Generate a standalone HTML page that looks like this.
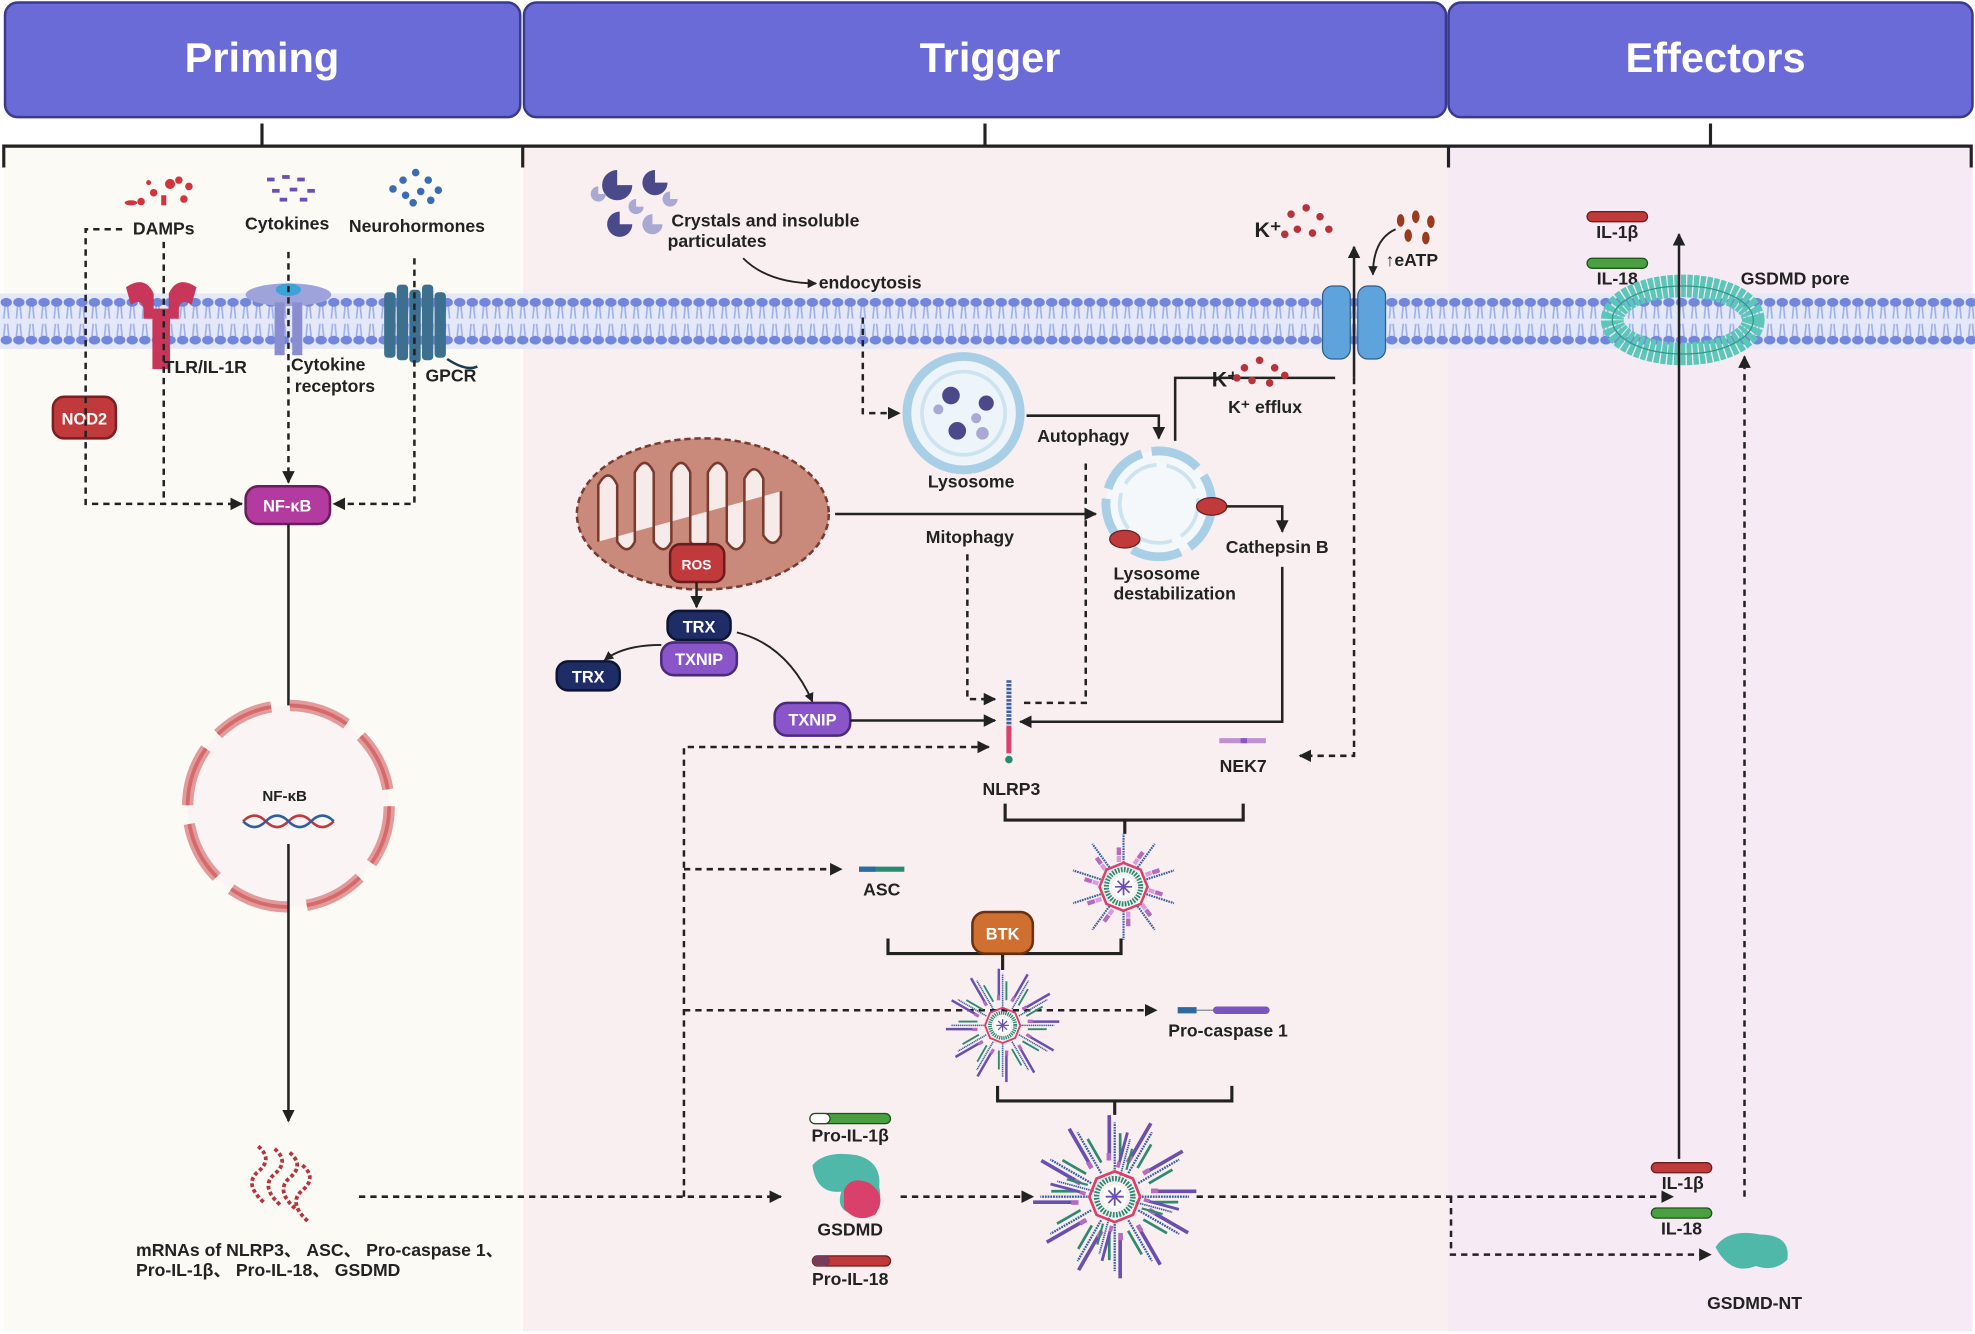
<!DOCTYPE html>
<html><head><meta charset="utf-8"><style>
html,body{margin:0;padding:0;background:#fff}
svg{display:block}
text{font-family:"Liberation Sans","Noto Sans CJK SC",sans-serif;font-weight:bold;fill:#222;font-size:14px}
.h{fill:#fff;font-size:33px}
.w{fill:#fff;font-size:13px}
</style></head><body>
<svg width="1975" height="1334" viewBox="0 0 1568 1059" preserveAspectRatio="none" xmlns="http://www.w3.org/2000/svg">
<defs>
<marker id="a" viewBox="0 0 10 10" refX="9" refY="5" markerWidth="5" markerHeight="5" orient="auto"><path d="M0,0L10,5L0,10z" fill="#222"/></marker>
<pattern id="mem" width="10" height="44" patternUnits="userSpaceOnUse" x="0" y="233">
<rect width="10" height="44" fill="#e4e8f8"/>
<line x1="4" y1="10" x2="3" y2="20" stroke="#9fb0e8" stroke-width="1.3"/><line x1="6" y1="10" x2="7" y2="20" stroke="#9fb0e8" stroke-width="1.3"/>
<line x1="4" y1="24" x2="3" y2="34" stroke="#9fb0e8" stroke-width="1.3"/><line x1="6" y1="24" x2="7" y2="34" stroke="#9fb0e8" stroke-width="1.3"/>
<ellipse cx="5" cy="7" rx="4.5" ry="3.5" fill="#7186dc"/><ellipse cx="5" cy="37" rx="4.5" ry="3.5" fill="#7186dc"/>
</pattern>
<g id="sp"><line x1="0" y1="-28" x2="0" y2="-62" stroke="#3b5fa0" stroke-width="2.5" stroke-dasharray="2 1"/><rect x="-8" y="-46" width="5" height="9" fill="#b46bc0"/><rect x="-8" y="-36" width="5" height="7" fill="#d69be0"/></g>
<g id="sp2"><line x1="0" y1="-30" x2="0" y2="-82" stroke="#3b5fa0" stroke-width="2.5" stroke-dasharray="2 1"/><line x1="-6" y1="-40" x2="-6" y2="-90" stroke="#6a4fb0" stroke-width="4"/><rect x="-9" y="-48" width="5" height="8" fill="#b46bc0"/><line x1="6" y1="-40" x2="6" y2="-70" stroke="#2f8a6e" stroke-width="3"/></g>
<g id="core"><polygon points="0,-28 20,-20 28,0 20,20 0,28 -20,20 -28,0 -20,-20" fill="none" stroke="#d9406a" stroke-width="3"/><circle r="20" fill="none" stroke="#2a8a70" stroke-width="6" stroke-dasharray="2 1.5"/><circle r="13" fill="#fff"/><g stroke="#6a4fb0" stroke-width="2"><line x1="-10" y1="0" x2="10" y2="0"/><line x1="0" y1="-10" x2="0" y2="10"/><line x1="-7" y1="-7" x2="7" y2="7"/><line x1="-7" y1="7" x2="7" y2="-7"/></g></g>
</defs>
<rect width="1568" height="1059" fill="#fff"/>
<rect x="3" y="115" width="411" height="942" fill="#fcfaf5"/>
<rect x="415" y="115" width="735" height="942" fill="#f9eff1"/>
<rect x="1150" y="115" width="416" height="942" fill="#f6eaf4"/>
<rect x="4" y="2" width="409" height="91" rx="10" fill="#6b6bd8" stroke="#3a3a8a" stroke-width="2"/>
<rect x="416" y="2" width="732" height="91" rx="10" fill="#6b6bd8" stroke="#3a3a8a" stroke-width="2"/>
<rect x="1150" y="2" width="416" height="91" rx="10" fill="#6b6bd8" stroke="#3a3a8a" stroke-width="2"/>
<text class="h" x="208" y="57" text-anchor="middle">Priming</text>
<text class="h" x="786" y="57" text-anchor="middle">Trigger</text>
<text class="h" x="1362" y="57" text-anchor="middle">Effectors</text>
<g stroke="#222" stroke-width="2.5" fill="none"><path d="M3,133V116H1565V133M415,116V133M1150,116V133M208,98V116M782,98V116M1358,98V116"/></g>
<rect x="0" y="233" width="1568" height="44" fill="url(#mem)"/>
<g fill="#d0353b"><circle cx="112" cy="160" r="3"/><circle cx="122" cy="153" r="3"/><circle cx="135" cy="146" r="4"/><circle cx="146" cy="158" r="3"/><rect x="128" y="155" width="4" height="8"/><circle cx="142" cy="143" r="3"/><ellipse cx="104" cy="161" rx="5" ry="2"/><circle cx="118" cy="145" r="2"/><circle cx="150" cy="148" r="3"/></g>
<text x="130" y="186" text-anchor="middle">DAMPs</text>
<g fill="#6b4fb5"><rect x="212" y="141" width="6" height="3"/><rect x="224" y="139" width="6" height="3"/><rect x="236" y="141" width="6" height="3"/><rect x="216" y="150" width="6" height="3"/><rect x="230" y="149" width="6" height="3"/><rect x="244" y="150" width="6" height="3"/><rect x="222" y="157" width="6" height="3"/><rect x="238" y="157" width="6" height="3"/></g>
<text x="228" y="182" text-anchor="middle">Cytokines</text>
<g fill="#3a6bb5"><circle cx="312" cy="150" r="3"/><circle cx="320" cy="143" r="3"/><circle cx="330" cy="137" r="3"/><circle cx="340" cy="143" r="3"/><circle cx="348" cy="151" r="3"/><circle cx="322" cy="155" r="3"/><circle cx="334" cy="152" r="3"/><circle cx="342" cy="159" r="3"/><circle cx="328" cy="161" r="3"/></g>
<text x="331" y="184" text-anchor="middle">Neurohormones</text>
<g fill="#c8365a"><path d="M100,228q15,-10 22,5v12h12v-12q7,-15 22,-5l-4,14q-8,-6 -10,3v8h-7v40h-14v-40h-7v-8q-2,-9 -10,-3z"/></g>
<text x="163" y="296" text-anchor="middle">TLR/IL-1R</text>
<g><ellipse cx="229" cy="234" rx="34" ry="9" fill="#9fa3dc"/><ellipse cx="229" cy="230" rx="10" ry="5" fill="#3aa3d8"/><rect x="218" y="240" width="8" height="42" fill="#8a8ed0"/><rect x="232" y="240" width="8" height="42" fill="#8a8ed0"/></g>
<text x="231" y="294">Cytokine</text><text x="234" y="311">receptors</text>
<g fill="#3d6f8f"><rect x="305" y="232" width="9" height="52" rx="3"/><rect x="315" y="226" width="9" height="60" rx="3"/><rect x="325" y="230" width="9" height="58" rx="3"/><rect x="335" y="226" width="9" height="60" rx="3"/><rect x="345" y="232" width="9" height="52" rx="3"/></g>
<path d="M355,285q15,10 24,6" stroke="#1b3b4f" stroke-width="2" fill="none"/>
<text x="358" y="303" text-anchor="middle">GPCR</text>
<rect x="42" y="315" width="50" height="33" rx="9" fill="#c0393b" stroke="#7a1f22" stroke-width="2"/><text class="w" x="67" y="337" text-anchor="middle">NOD2</text>
<g stroke="#222" stroke-width="2" fill="none" stroke-dasharray="5 4">
<path d="M97,182H68V400H192" marker-end="url(#a)"/><path d="M130,192V400"/><path d="M229,200V383" marker-end="url(#a)"/><path d="M329,205V400H265" marker-end="url(#a)"/></g>
<rect x="195" y="386" width="67" height="30" rx="10" fill="#b33a9e" stroke="#6a1d5c" stroke-width="2"/><text class="w" x="228" y="406" text-anchor="middle">NF-κB</text>
<path d="M229,416V620" stroke="#222" stroke-width="2" marker-end="url(#a)"/>
<circle cx="229" cy="640" r="80" fill="#fbf4f4"/>
<circle cx="229" cy="640" r="80" fill="none" stroke="#e39a9a" stroke-width="9" stroke-dasharray="48 15"/>
<circle cx="229" cy="640" r="80" fill="none" stroke="#d46a6a" stroke-width="3" stroke-dasharray="48 15"/>
<text x="226" y="636" text-anchor="middle" style="font-size:12px">NF-κB</text>
<path d="M193,652q9,-9 18,0t18,0t18,0t18,0" stroke="#c0393b" stroke-width="2" fill="none"/><path d="M193,652q9,9 18,0t18,0t18,0t18,0" stroke="#2d5fa0" stroke-width="2" fill="none"/>
<path d="M229,670V890" stroke="#222" stroke-width="2" marker-end="url(#a)"/>
<g stroke="#b7333b" stroke-width="3" fill="none" stroke-dasharray="3 2"><path d="M205,910q12,10 0,20t5,25"/><path d="M218,912q12,10 0,20t5,25"/><path d="M230,915q12,10 0,20t5,25"/><path d="M240,925q12,10 0,20t5,25"/></g>
<text x="108" y="997">mRNAs of NLRP3、 ASC、 Pro-caspase 1、</text>
<text x="108" y="1013">Pro-IL-1β、 Pro-IL-18、 GSDMD</text>
<g stroke="#222" stroke-width="2" fill="none" stroke-dasharray="5 4">
<path d="M285,950H620" marker-end="url(#a)"/><path d="M543,950V593H785" marker-end="url(#a)"/><path d="M543,690H668" marker-end="url(#a)"/><path d="M543,802H918" marker-end="url(#a)"/>
<path d="M715,950H820" marker-end="url(#a)"/><path d="M950,950H1328" marker-end="url(#a)"/><path d="M1152,950V996H1358" marker-end="url(#a)"/>
<path d="M685,252V328H714" marker-end="url(#a)"/><path d="M768,440V555H790" marker-end="url(#a)"/><path d="M862,368V558H810"/>
<path d="M1075,300V600H1032" marker-end="url(#a)"/><path d="M1385,950V283" marker-end="url(#a)"/>
</g>
<g fill="#4a4a8a"><path d="M490,135a12,12 0 1,0 12,12h-12z"/><path d="M520,135a10,10 0 1,0 10,10h-10z"/><path d="M492,168a10,10 0 1,0 10,10h-10z"/></g>
<g fill="#a9a9d4"><path d="M475,148a6,6 0 1,0 6,6h-6z"/><path d="M505,158a6,6 0 1,0 6,6h-6z"/><path d="M532,152a6,6 0 1,0 6,6h-6z"/><path d="M518,170a8,8 0 1,0 8,8h-8z"/></g>
<text x="533" y="180">Crystals and  insoluble</text><text x="530" y="196">particulates</text>
<path d="M590,205q20,20 58,20" stroke="#222" stroke-width="1.5" fill="none" marker-end="url(#a)"/>
<text x="650" y="229">endocytosis</text>
<circle cx="765" cy="328" r="45" fill="#eef5fa" stroke="#a9cfe6" stroke-width="7"/><circle cx="765" cy="328" r="33" fill="#eef5fa" stroke="#cde3f0" stroke-width="3"/>
<g fill="#4a4a8a"><circle cx="755" cy="314" r="7"/><circle cx="783" cy="320" r="6"/><circle cx="760" cy="342" r="7"/></g><g fill="#a9a9d4"><circle cx="745" cy="325" r="4"/><circle cx="775" cy="332" r="4"/><circle cx="780" cy="344" r="5"/></g>
<text x="771" y="387" text-anchor="middle">Lysosome</text>
<path d="M815,330H920V348" stroke="#222" stroke-width="2" fill="none" marker-end="url(#a)"/>
<text x="860" y="351" text-anchor="middle">Autophagy</text>
<circle cx="920" cy="400" r="42" fill="#f4f8fb" stroke="#a9cfe6" stroke-width="7" stroke-dasharray="40 8"/><circle cx="920" cy="400" r="31" fill="none" stroke="#cde3f0" stroke-width="3" stroke-dasharray="30 8"/>
<ellipse cx="893" cy="428" rx="12" ry="7" fill="#c0393b" stroke="#6a1d1d"/><ellipse cx="962" cy="402" rx="12" ry="7" fill="#c0393b" stroke="#6a1d1d"/>
<path d="M974,402H1018V422" stroke="#222" stroke-width="2" fill="none" marker-end="url(#a)"/>
<text x="1014" y="439" text-anchor="middle">Cathepsin B</text>
<text x="884" y="460">Lysosome</text><text x="884" y="476">destabilization</text>
<path d="M1018,450V573H810" stroke="#222" stroke-width="2" fill="none" marker-end="url(#a)"/>
<ellipse cx="558" cy="408" rx="100" ry="60" fill="#c98a7c" stroke="#7a3a2e" stroke-width="2" stroke-dasharray="5 3"/>
<path d="M475,430v-45q8,-15 15,0v45q8,12 14,0v-55q8,-15 15,0v55q8,12 14,0v-55q8,-15 15,0v55q8,12 14,0v-55q8,-15 15,0v55q8,12 14,0v-50q8,-15 15,0v45q8,12 14,0v-35" fill="#f6ebe9" stroke="#7a3a2e" stroke-width="2"/>
<path d="M663,408H870" stroke="#222" stroke-width="2" marker-end="url(#a)"/>
<text x="770" y="431" text-anchor="middle">Mitophagy</text>
<rect x="532" y="432" width="43" height="30" rx="8" fill="#c0393b" stroke="#6a1d1d" stroke-width="2"/><text class="w" x="553" y="452" text-anchor="middle" style="font-size:11px">ROS</text>
<path d="M553,462V482" stroke="#222" stroke-width="2" marker-end="url(#a)"/>
<rect x="530" y="485" width="50" height="23" rx="9" fill="#1f2d66" stroke="#0d1533" stroke-width="2"/><text class="w" x="555" y="502" text-anchor="middle">TRX</text>
<rect x="525" y="510" width="60" height="26" rx="10" fill="#8a55c8" stroke="#4a2a7a" stroke-width="2"/><text class="w" x="555" y="528" text-anchor="middle">TXNIP</text>
<path d="M525,512q-30,0 -45,12" stroke="#222" stroke-width="1.5" fill="none" marker-end="url(#a)"/>
<rect x="442" y="525" width="50" height="23" rx="9" fill="#1f2d66" stroke="#0d1533" stroke-width="2"/><text class="w" x="467" y="542" text-anchor="middle">TRX</text>
<path d="M585,502q40,10 60,55" stroke="#222" stroke-width="1.5" fill="none" marker-end="url(#a)"/>
<rect x="615" y="558" width="60" height="26" rx="10" fill="#8a55c8" stroke="#4a2a7a" stroke-width="2"/><text class="w" x="645" y="576" text-anchor="middle">TXNIP</text>
<path d="M675,572H790" stroke="#222" stroke-width="2" marker-end="url(#a)"/>
<line x1="801" y1="540" x2="801" y2="575" stroke="#3b5fa0" stroke-width="4" stroke-dasharray="2 1"/><line x1="801" y1="576" x2="801" y2="598" stroke="#d9406a" stroke-width="4"/><circle cx="801" cy="603" r="3" fill="#2a8a70"/>
<text x="803" y="631" text-anchor="middle">NLRP3</text>
<rect x="1050" y="227" width="22" height="58" rx="8" fill="#5fa3dd" stroke="#2d5f8a"/><rect x="1078" y="227" width="22" height="58" rx="8" fill="#5fa3dd" stroke="#2d5f8a"/>
<path d="M1075,300V196" stroke="#222" stroke-width="2" marker-end="url(#a)"/>
<path d="M1060,300H933V350" stroke="#222" stroke-width="2" fill="none"/>
<text x="996" y="188" style="font-size:17px">K⁺</text>
<g fill="#b7333b"><circle cx="1025" cy="170" r="3"/><circle cx="1037" cy="165" r="3"/><circle cx="1048" cy="172" r="3"/><circle cx="1030" cy="182" r="3"/><circle cx="1042" cy="185" r="3"/><circle cx="1055" cy="182" r="3"/><circle cx="1020" cy="186" r="3"/></g>
<g fill="#9a3a1e"><ellipse cx="1112" cy="175" rx="3" ry="5"/><ellipse cx="1124" cy="172" rx="3" ry="5"/><ellipse cx="1136" cy="176" rx="3" ry="5"/><ellipse cx="1118" cy="187" rx="3" ry="5"/><ellipse cx="1132" cy="189" rx="3" ry="5"/></g>
<path d="M1108,182q-18,8 -18,36" stroke="#222" stroke-width="1.5" fill="none" marker-end="url(#a)"/>
<text x="1100" y="211">↑eATP</text>
<text x="962" y="307" style="font-size:17px">K⁺</text>
<g fill="#b7333b"><circle cx="988" cy="292" r="3"/><circle cx="1000" cy="286" r="3"/><circle cx="1012" cy="292" r="3"/><circle cx="994" cy="302" r="3"/><circle cx="1008" cy="304" r="3"/><circle cx="1020" cy="298" r="3"/><circle cx="982" cy="300" r="3"/></g>
<text x="975" y="328">K⁺ efflux</text>
<line x1="968" y1="588" x2="1005" y2="588" stroke="#c090d0" stroke-width="4"/><line x1="985" y1="588" x2="990" y2="588" stroke="#8a55c8" stroke-width="4"/>
<text x="987" y="613" text-anchor="middle">NEK7</text>
<g stroke="#222" stroke-width="2.5" fill="none"><path d="M798,638V651H987V638M893,651V662"/><path d="M705,745V757H890V745M796,757V770"/><path d="M792,862V874H978V862M885,874V885"/></g>
<g transform="translate(892,704) scale(0.68)"><use href="#sp"/><use href="#sp" transform="rotate(36)"/><use href="#sp" transform="rotate(72)"/><use href="#sp" transform="rotate(108)"/><use href="#sp" transform="rotate(144)"/><use href="#sp" transform="rotate(180)"/><use href="#sp" transform="rotate(216)"/><use href="#sp" transform="rotate(252)"/><use href="#sp" transform="rotate(288)"/><use href="#sp" transform="rotate(324)"/><use href="#core"/></g>
<line x1="682" y1="690" x2="718" y2="690" stroke="#2a8a70" stroke-width="4"/><line x1="682" y1="690" x2="695" y2="690" stroke="#2d6aa0" stroke-width="4"/>
<text x="700" y="711" text-anchor="middle">ASC</text>
<rect x="772" y="724" width="48" height="33" rx="10" fill="#d07030" stroke="#6a3010" stroke-width="2"/><text class="w" x="796" y="746" text-anchor="middle">BTK</text>
<g transform="translate(796,814) scale(0.5)"><use href="#sp2"/><use href="#sp2" transform="rotate(30)"/><use href="#sp2" transform="rotate(60)"/><use href="#sp2" transform="rotate(90)"/><use href="#sp2" transform="rotate(120)"/><use href="#sp2" transform="rotate(150)"/><use href="#sp2" transform="rotate(180)"/><use href="#sp2" transform="rotate(210)"/><use href="#sp2" transform="rotate(240)"/><use href="#sp2" transform="rotate(270)"/><use href="#sp2" transform="rotate(300)"/><use href="#sp2" transform="rotate(330)"/><use href="#core"/></g>
<line x1="935" y1="802" x2="950" y2="802" stroke="#2d6aa0" stroke-width="5"/><line x1="950" y1="802" x2="966" y2="802" stroke="#888" stroke-width="1"/><line x1="966" y1="802" x2="1005" y2="802" stroke="#7a55c0" stroke-width="6" stroke-linecap="round"/>
<text x="975" y="823" text-anchor="middle">Pro-caspase 1</text>
<g transform="translate(885,950) scale(0.72)"><use href="#sp2"/><use href="#sp2" transform="rotate(30)"/><use href="#sp2" transform="rotate(60)"/><use href="#sp2" transform="rotate(90)"/><use href="#sp2" transform="rotate(120)"/><use href="#sp2" transform="rotate(150)"/><use href="#sp2" transform="rotate(180)"/><use href="#sp2" transform="rotate(210)"/><use href="#sp2" transform="rotate(240)"/><use href="#sp2" transform="rotate(270)"/><use href="#sp2" transform="rotate(300)"/><use href="#sp2" transform="rotate(330)"/><use href="#sp2" transform="rotate(15) scale(0.8)"/><use href="#sp2" transform="rotate(105) scale(0.8)"/><use href="#sp2" transform="rotate(195) scale(0.8)"/><use href="#sp2" transform="rotate(285) scale(0.8)"/><use href="#core"/></g>
<rect x="643" y="884" width="64" height="8" rx="4" fill="#4aa040" stroke="#1d501a"/><rect x="643" y="884" width="16" height="8" rx="4" fill="#fff" stroke="#1d501a"/>
<text x="675" y="906" text-anchor="middle">Pro-IL-1β</text>
<path d="M645,925q10,-12 35,-8q20,5 18,25q5,22 -20,22q-15,-3 -10,-18q-20,2 -23,-21z" fill="#4fb8a8"/><path d="M670,945q5,-12 20,-6q15,10 5,25q-15,8 -25,-5z" fill="#d9406a"/>
<text x="675" y="981" text-anchor="middle">GSDMD</text>
<rect x="645" y="997" width="62" height="8" rx="4" fill="#c0393b" stroke="#6a1d1d"/><rect x="645" y="997" width="14" height="8" rx="4" fill="#7a3a5a"/>
<text x="675" y="1020" text-anchor="middle">Pro-IL-18</text>
<rect x="1260" y="168" width="48" height="8" rx="4" fill="#c0393b" stroke="#6a1d1d"/><text x="1284" y="189" text-anchor="middle">IL-1β</text>
<rect x="1260" y="205" width="48" height="8" rx="4" fill="#4aa040" stroke="#1d501a"/><text x="1284" y="226" text-anchor="middle">IL-18</text>
<ellipse cx="1336" cy="254" rx="56" ry="27" fill="none" stroke="#5cc7b8" stroke-width="18" stroke-dasharray="4 1"/><ellipse cx="1336" cy="254" rx="56" ry="27" fill="none" stroke="#2f9a8a" stroke-width="1"/>
<text x="1382" y="226">GSDMD pore</text>
<path d="M1333,920V186" stroke="#222" stroke-width="2" marker-end="url(#a)"/>
<rect x="1311" y="923" width="48" height="8" rx="4" fill="#c0393b" stroke="#6a1d1d"/><text x="1336" y="944" text-anchor="middle">IL-1β</text>
<rect x="1311" y="959" width="48" height="8" rx="4" fill="#4aa040" stroke="#1d501a"/><text x="1335" y="980" text-anchor="middle">IL-18</text>
<path d="M1362,990q10,-15 35,-10q25,0 22,20q-10,10 -25,5q-20,8 -32,-15z" fill="#4fb8a8"/>
<text x="1393" y="1039" text-anchor="middle">GSDMD-NT</text>
</svg>
</body></html>
